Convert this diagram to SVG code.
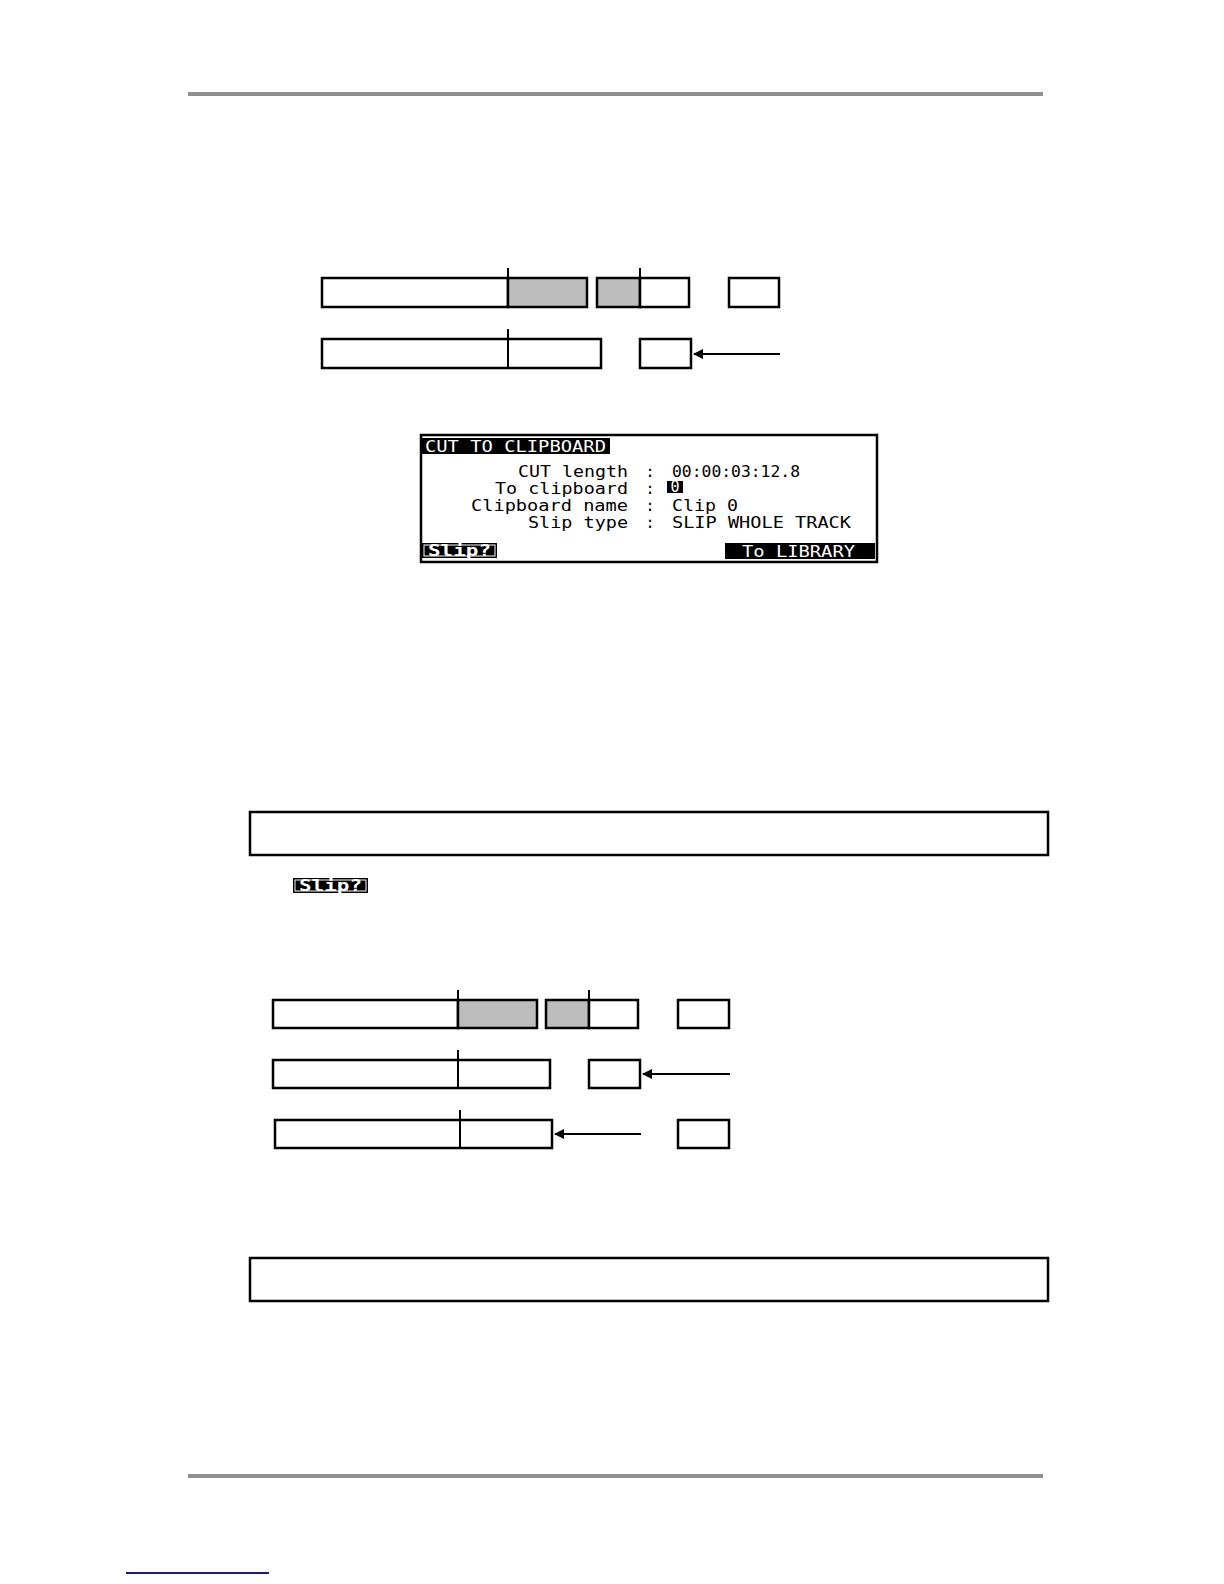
<svg xmlns="http://www.w3.org/2000/svg" width="1224" height="1584" viewBox="0 0 1224 1584">
<style>
.bar{fill:#fff;stroke:#000;stroke-width:2.5}
.cut{fill:#bdbdbd;stroke:#000;stroke-width:2.5}
.tick{stroke:#000;stroke-width:2}
.conn{stroke:#000;stroke-width:2;fill:none}
.rule{fill:#8f8f8f}
.lcd{font-family:"DejaVu Sans Mono","Liberation Mono",monospace;font-size:15px;fill:#000}
.inv{fill:#fff}
.frame{fill:#fff;stroke:#000;stroke-width:2.5}
</style>
<defs>
<marker id="ah" viewBox="0 0 10 10" refX="9" refY="5" markerWidth="10" markerHeight="13" orient="auto" markerUnits="userSpaceOnUse">
<path d="M0,0 L10,5 L0,10 z" fill="#000"/>
</marker>
</defs>
<rect width="1224" height="1584" fill="#fff"/>
<rect class="rule" x="188" y="92" width="855" height="4"/>
<rect class="rule" x="188" y="1474" width="855" height="4"/>
<rect x="126" y="1572" width="143" height="2" fill="#1a1a8c"/>

<!-- Diagram 1 -->
<g id="d1-row1-track">
<rect class="bar" x="322" y="278" width="186" height="29"/>
<rect class="cut" x="508" y="278" width="79" height="29"/>
<line class="tick" x1="508" y1="268" x2="508" y2="307"/>
</g>
<g id="d1-row1-piece">
<rect class="cut" x="597" y="278" width="43" height="29"/>
<rect class="bar" x="640" y="278" width="49" height="29"/>
<line class="tick" x1="640" y1="268" x2="640" y2="307"/>
</g>
<g id="d1-row1-box"><rect class="bar" x="729" y="278" width="50" height="29"/></g>
<g id="d1-row2-track">
<rect class="bar" x="322" y="339" width="279" height="29"/>
<line class="tick" x1="508" y1="329" x2="508" y2="368"/>
</g>
<g id="d1-row2-box"><rect class="bar" x="640" y="339" width="51" height="29"/></g>

<!-- Diagram 2 -->
<g id="d2-row1-track">
<rect class="bar" x="273" y="1000" width="185" height="28"/>
<rect class="cut" x="458" y="1000" width="79" height="28"/>
<line class="tick" x1="458" y1="990" x2="458" y2="1028"/>
</g>
<g id="d2-row1-piece">
<rect class="cut" x="546" y="1000" width="43" height="28"/>
<rect class="bar" x="589" y="1000" width="49" height="28"/>
<line class="tick" x1="589" y1="990" x2="589" y2="1028"/>
</g>
<g id="d2-row1-box"><rect class="bar" x="678" y="1000" width="51" height="28"/></g>
<g id="d2-row2-track">
<rect class="bar" x="273" y="1060" width="277" height="28"/>
<line class="tick" x1="458" y1="1050" x2="458" y2="1088"/>
</g>
<g id="d2-row2-box"><rect class="bar" x="589" y="1060" width="51" height="28"/></g>
<g id="d2-row3-track">
<rect class="bar" x="275" y="1120" width="277" height="28"/>
<line class="tick" x1="460" y1="1110" x2="460" y2="1149"/>
</g>
<g id="d2-row3-box"><rect class="bar" x="678" y="1120" width="51" height="28"/></g>

<g id="connectors">
<line class="conn" x1="780" y1="354" x2="694" y2="354" marker-end="url(#ah)"/>
<line class="conn" x1="730" y1="1074" x2="643" y2="1074" marker-end="url(#ah)"/>
<line class="conn" x1="641" y1="1134" x2="555" y2="1134" marker-end="url(#ah)"/>
</g>

<!-- LCD screen -->
<g id="lcd">
<rect class="frame" x="421" y="435" width="456" height="127"/>
<rect x="422" y="438" width="188" height="16" fill="#000"/>
<text class="lcd inv" x="425" y="452" font-size="16" textLength="181" lengthAdjust="spacingAndGlyphs">CUT TO CLIPBOARD</text>
<text class="lcd" x="628" y="477" text-anchor="end" textLength="110" lengthAdjust="spacingAndGlyphs">CUT length</text>
<text class="lcd" x="628" y="494" text-anchor="end" textLength="133" lengthAdjust="spacingAndGlyphs">To clipboard</text>
<text class="lcd" x="628" y="511" text-anchor="end" textLength="157" lengthAdjust="spacingAndGlyphs">Clipboard name</text>
<text class="lcd" x="628" y="528" text-anchor="end" textLength="100" lengthAdjust="spacingAndGlyphs">Slip type</text>
<text class="lcd" x="650" y="477" text-anchor="middle">:</text>
<text class="lcd" x="650" y="494" text-anchor="middle">:</text>
<text class="lcd" x="650" y="511" text-anchor="middle">:</text>
<text class="lcd" x="650" y="528" text-anchor="middle">:</text>
<text class="lcd" x="672" y="477" textLength="128" lengthAdjust="spacingAndGlyphs">00:00:03:12.8</text>
<rect x="667" y="481" width="16" height="12" fill="#000"/>
<text class="lcd inv" x="675" y="492" text-anchor="middle" font-size="12">0</text>
<text class="lcd" x="672" y="511" textLength="66" lengthAdjust="spacingAndGlyphs">Clip 0</text>
<text class="lcd" x="672" y="528" textLength="179" lengthAdjust="spacingAndGlyphs">SLIP WHOLE TRACK</text>
<rect x="422" y="543" width="75" height="15" fill="#000"/>
<rect x="424" y="545" width="71" height="11" fill="none" stroke="#fff" stroke-width="1"/>
<text class="lcd inv" x="428" y="556" font-weight="bold" textLength="63" lengthAdjust="spacingAndGlyphs">Slip?</text>
<rect x="725" y="543" width="150" height="16" fill="#000"/>
<text class="lcd inv" x="742" y="557" textLength="113" lengthAdjust="spacingAndGlyphs">To LIBRARY</text>
</g>

<g id="note1"><rect x="250" y="812" width="798" height="43" fill="#fff" stroke="#000" stroke-width="2.5"/></g>
<g id="slip-button">
<rect x="293" y="878" width="75" height="15" fill="#000"/>
<rect x="295" y="880" width="71" height="11" fill="none" stroke="#fff" stroke-width="1"/>
<text class="lcd inv" x="299" y="891" font-weight="bold" textLength="63" lengthAdjust="spacingAndGlyphs">Slip?</text>
</g>
<g id="note2"><rect x="250" y="1258" width="798" height="43" fill="#fff" stroke="#000" stroke-width="2.5"/></g>
</svg>
